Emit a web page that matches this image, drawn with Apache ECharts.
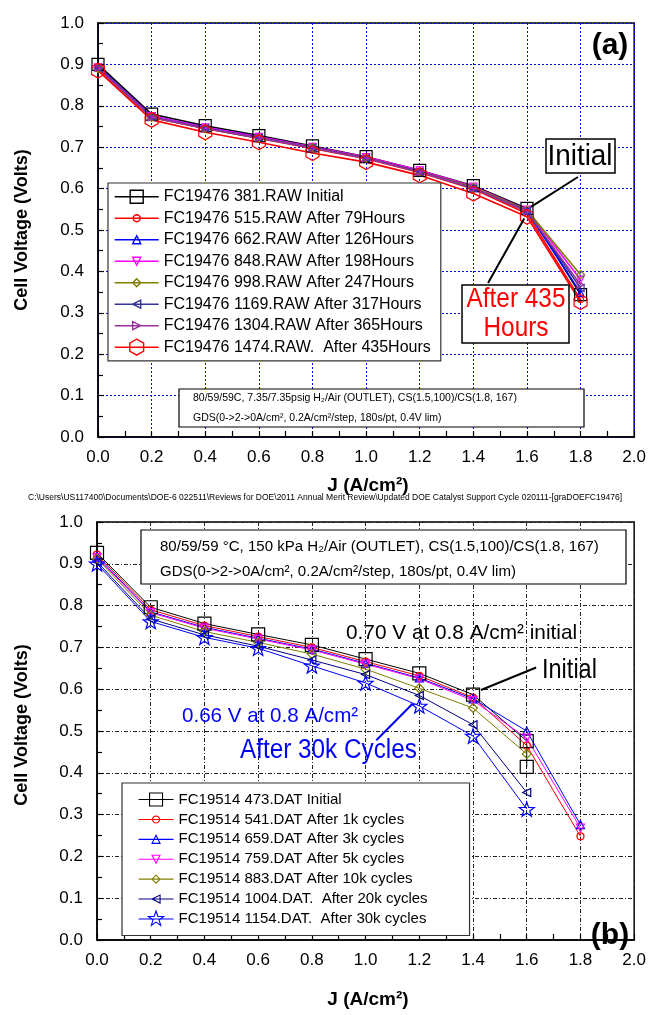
<!DOCTYPE html>
<html><head><meta charset="utf-8">
<script src="https://cdn.jsdelivr.net/npm/echarts@6/dist/echarts.min.js"></script>
<style>html,body{margin:0;padding:0;background:#fff}#c{width:649px;height:1015px}</style>
</head><body><div id="c"></div>
<script>
// ---------- data ----------
const J = [0, 0.2, 0.4, 0.6, 0.8, 1.0, 1.2, 1.4, 1.6, 1.8];
const J_B_INIT = [0, 0.2, 0.4, 0.6, 0.8, 1.0, 1.2, 1.4, 1.6, 1.6];
const J_B_SHORT = [0, 0.2, 0.4, 0.6, 0.8, 1.0, 1.2, 1.4, 1.6];
const xTicks = [0, 0.2, 0.4, 0.6, 0.8, 1.0, 1.2, 1.4, 1.6, 1.8, 2.0];
const yTicks = [0, 0.1, 0.2, 0.3, 0.4, 0.5, 0.6, 0.7, 0.8, 0.9, 1.0];

// panel (a)
const namesA = ['FC19476 381.RAW Initial', 'FC19476 515.RAW After 79Hours', 'FC19476 662.RAW After 126Hours',
  'FC19476 848.RAW After 198Hours', 'FC19476 998.RAW After 247Hours', 'FC19476 1169.RAW After 317Hours',
  'FC19476 1304.RAW After 365Hours', 'FC19476 1474.RAW.  After 435Hours'];
const a381  = [0.900, 0.780, 0.752, 0.728, 0.703, 0.677, 0.644, 0.607, 0.552, 0.344];
const a515  = [0.890, 0.772, 0.745, 0.722, 0.697, 0.672, 0.639, 0.599, 0.540, 0.332];
const a662  = [0.895, 0.775, 0.748, 0.725, 0.700, 0.675, 0.642, 0.603, 0.546, 0.348];
const a848  = [0.893, 0.775, 0.748, 0.725, 0.701, 0.676, 0.644, 0.605, 0.549, 0.380];
const a998  = [0.890, 0.772, 0.745, 0.722, 0.699, 0.674, 0.641, 0.603, 0.548, 0.392];
const a1169 = [0.892, 0.773, 0.746, 0.723, 0.699, 0.674, 0.641, 0.601, 0.546, 0.360];
const a1304 = [0.891, 0.772, 0.745, 0.722, 0.698, 0.673, 0.640, 0.600, 0.545, 0.368];
const a1474 = [0.885, 0.766, 0.736, 0.712, 0.686, 0.664, 0.632, 0.588, 0.532, 0.326];

// panel (b)
const namesB = ['FC19514 473.DAT Initial', 'FC19514 541.DAT After 1k cycles', 'FC19514 659.DAT After 3k cycles',
  'FC19514 759.DAT After 5k cycles', 'FC19514 883.DAT After 10k cycles', 'FC19514 1004.DAT.  After 20k cycles',
  'FC19514 1154.DAT.  After 30k cycles'];
const b473  = [0.926, 0.796, 0.757, 0.731, 0.706, 0.672, 0.638, 0.587, 0.476, 0.414];
const b541  = [0.922, 0.790, 0.752, 0.726, 0.700, 0.666, 0.632, 0.580, 0.465, 0.248];
const b659  = [0.918, 0.785, 0.748, 0.722, 0.696, 0.662, 0.627, 0.577, 0.500, 0.276];
const b759  = [0.915, 0.783, 0.746, 0.720, 0.694, 0.660, 0.625, 0.573, 0.483, 0.268];
const b883  = [0.912, 0.777, 0.738, 0.712, 0.684, 0.648, 0.602, 0.555, 0.445];
const b1004 = [0.905, 0.768, 0.730, 0.703, 0.670, 0.635, 0.585, 0.515, 0.353];
const b1154 = [0.900, 0.762, 0.724, 0.698, 0.656, 0.615, 0.560, 0.488, 0.313];

// ---------- helpers ----------
const FONT = 'Liberation Sans, Arial, sans-serif';
const HEX = 'path://M0,-10 L8.66,-5 L8.66,5 L0,10 L-8.66,5 L-8.66,-5 Z';
const STAR = 'path://M0,-10 L2.35,-3.24 L9.51,-3.09 L3.8,1.24 L5.88,8.09 L0,4 L-5.88,8.09 L-3.8,1.24 L-9.51,-3.09 L-2.35,-3.24 Z';
const pts = (xs, ys) => ys.map((v, i) => [xs[i], v]);

// legend icon shapes (unit shapes, radius 1)
function shapePts(kind) {
  const r = [];
  if (kind === 'rect') return [[-1, -1], [1, -1], [1, 1], [-1, 1]];
  if (kind === 'circle') { for (let k = 0; k < 16; k++) { const a = k / 16 * 2 * Math.PI; r.push([Math.cos(a), Math.sin(a)]); } return r; }
  if (kind === 'up') return [[0, -1], [1, 1], [-1, 1]];
  if (kind === 'down') return [[0, 1], [1, -1], [-1, -1]];
  if (kind === 'left') return [[-1, 0], [1, -1], [1, 1]];
  if (kind === 'right') return [[1, 0], [-1, -1], [-1, 1]];
  if (kind === 'diamond') return [[0, -1], [1, 0], [0, 1], [-1, 0]];
  if (kind === 'hex') return [[0, -1], [0.866, -0.5], [0.866, 0.5], [0, 1], [-0.866, 0.5], [-0.866, -0.5]];
  if (kind === 'star') { for (let k = 0; k < 10; k++) { const a = -Math.PI / 2 + k * Math.PI / 5; const rr = k % 2 ? 0.4 : 1; r.push([rr * Math.cos(a), rr * Math.sin(a)]); } return r; }
  return r;
}
function legendIcon(kind, W, H, s) {
  const cx = W / 2, cy = H / 2, h = s / 2;
  const p = shapePts(kind).map(q => (cx + q[0] * h).toFixed(2) + ',' + (cy + q[1] * h).toFixed(2));
  return 'path://M0,0 M' + W + ',' + H + ' M0,' + cy + ' L' + W + ',' + cy + ' M' + p.join(' L') + ' Z';
}

function ser(name, xs, ys, color, symbol, size, rot, g, lw) {
  return {
    name, type: 'line', xAxisIndex: g, yAxisIndex: g, data: pts(xs, ys),
    symbol, symbolSize: size, symbolRotate: rot, symbolKeepAspect: true, showSymbol: true,
    lineStyle: { color, width: lw }, itemStyle: { color: 'rgba(255,255,255,0)', borderColor: color, borderWidth: 1.2 },
    emphasis: { disabled: true }, animation: false, z: 3
  };
}
function xAx(g, grid) {
  return {
    type: 'value', gridIndex: g, min: 0, max: 2, interval: 0.2,
    axisLine: { show: true, onZero: false, lineStyle: { color: '#000', width: 1.5 } },
    axisTick: { show: true, inside: true, length: 6, lineStyle: { color: '#000', width: 1.2 } },
    minorTick: { show: true, splitNumber: 2, length: 6, lineStyle: { color: '#000', width: 1.2 } },
    splitLine: { show: true, lineStyle: grid },
    axisLabel: { color: '#000', fontSize: 17, fontFamily: FONT, margin: 12, formatter: v => v.toFixed(1) }
  };
}
function yAx(g, grid) {
  return {
    type: 'value', gridIndex: g, min: 0, max: 1, interval: 0.1,
    axisLine: { show: true, onZero: false, lineStyle: { color: '#000', width: 1.5 } },
    axisTick: { show: true, inside: true, length: 6, lineStyle: { color: '#000', width: 1.2 } },
    minorTick: { show: true, splitNumber: 2, length: 5, lineStyle: { color: '#000', width: 1.2 } },
    splitLine: { show: true, lineStyle: grid },
    axisLabel: { color: '#000', fontSize: 17, fontFamily: FONT, margin: 14, formatter: v => v.toFixed(1) }
  };
}
function arrow(p1, p2, color) {
  return [{ coord: p1, lineStyle: { color, width: 2, type: 'solid' } }, { coord: p2 }];
}
const gridA = { color: '#0000ff', type: [2, 2], width: 1 };
const gridB = { color: '#222', type: [4, 2, 1, 2], width: 1 };

const seriesA = [
  ser(namesA[0], J, a381, '#000000', 'rect', 12, 0, 0, 1.6),
  ser(namesA[1], J, a515, '#ff0000', 'circle', 6, 0, 0, 1.6),
  ser(namesA[2], J, a662, '#0000ff', 'triangle', 7, 0, 0, 1.6),
  ser(namesA[3], J, a848, '#ff00ff', 'triangle', 7, 180, 0, 1.6),
  ser(namesA[4], J, a998, '#808000', 'diamond', 8, 0, 0, 1.6),
  ser(namesA[5], J, a1169, '#333399', 'triangle', 7, 90, 0, 1.6),
  ser(namesA[6], J, a1304, '#993399', 'triangle', 7, -90, 0, 1.6),
  ser(namesA[7], J, a1474, '#ff0000', HEX, 15, 0, 0, 1.6)
];
seriesA[0].markLine = {
  silent: true, symbol: ['none', 'arrow'], symbolSize: [0, 10], label: { show: false }, animation: false,
  data: [arrow([1.79, 0.628], [1.615, 0.556], '#000'), arrow([1.455, 0.372], [1.59, 0.528], '#000')]
};
const seriesB = [
  ser(namesB[0], J_B_INIT, b473, '#000000', 'rect', 13, 0, 1, 1),
  ser(namesB[1], J, b541, '#ff0000', 'circle', 7, 0, 1, 1),
  ser(namesB[2], J, b659, '#0000ff', 'triangle', 8, 0, 1, 1),
  ser(namesB[3], J, b759, '#ff00ff', 'triangle', 8, 180, 1, 1),
  ser(namesB[4], J_B_SHORT, b883, '#808000', 'diamond', 9, 0, 1, 1),
  ser(namesB[5], J_B_SHORT, b1004, '#000080', 'triangle', 8, 90, 1, 1),
  ser(namesB[6], J_B_SHORT, b1154, '#0000ff', STAR, 15, 0, 1, 1)
];
seriesB[0].markLine = {
  silent: true, symbol: ['none', 'arrow'], symbolSize: [0, 10], label: { show: false }, animation: false,
  data: [arrow([1.635, 0.652], [1.43, 0.598], '#000'), arrow([1.04, 0.478], [1.175, 0.565], '#0000ff')]
};

const iconKindsA = [['rect', 13], ['circle', 7], ['up', 8], ['down', 8], ['diamond', 8], ['left', 8], ['right', 8], ['hex', 16]];
const iconKindsB = [['rect', 13], ['circle', 7], ['up', 8], ['down', 8], ['diamond', 8], ['left', 8], ['star', 16]];
const legendDataA = namesA.map((n, i) => ({ name: n, icon: legendIcon(iconKindsA[i][0], 44, 16, iconKindsA[i][1]), symbolRotate: 0 }));
const legendDataB = namesB.map((n, i) => ({ name: n, icon: legendIcon(iconKindsB[i][0], 35, 16, iconKindsB[i][1]), symbolRotate: 0 }));

function txt(x, y, text, font, color, align, sx) {
  return { type: 'text', x, y, scaleX: sx || 1, z: 20,
    style: { text, font, fill: color || '#000', textAlign: align || 'left', textVerticalAlign: 'middle' } };
}
function box(x, y, w, h, lw) {
  return { type: 'rect', z: 15, shape: { x, y, width: w, height: h }, style: { fill: '#fff', stroke: '#000', lineWidth: lw || 1.2 } };
}
const graphics = [
  // panel (a)
  txt(610, 46, '(a)', 'bold 30px ' + FONT, '#000', 'center'),
  box(546, 139, 69, 34, 1.5),
  txt(580, 157, 'Initial', '30px ' + FONT, '#000', 'center', 0.93),
  box(462, 285, 107, 58, 1.5),
  txt(516, 299, 'After 435', '28px ' + FONT, '#ff0000', 'center', 0.87),
  txt(516, 328, 'Hours', '28px ' + FONT, '#ff0000', 'center', 0.87),
  box(179, 389, 405, 38, 1.2),
  txt(193, 398, '80/59/59C, 7.35/7.35psig H\u2082/Air (OUTLET), CS(1.5,100)/CS(1.8, 167)', '10.5px ' + FONT),
  txt(193, 418, 'GDS(0->2->0A/cm\u00b2, 0.2A/cm\u00b2/step, 180s/pt, 0.4V lim)', '10.5px ' + FONT),
  { type: 'text', x: 22, y: 230, rotation: Math.PI / 2, z: 20,
    style: { text: 'Cell Voltage (Volts)', font: 'bold 18px ' + FONT, fill: '#000', textAlign: 'center', textVerticalAlign: 'middle' } },
  txt(368, 486, 'J (A/cm\u00b2)', 'bold 19px ' + FONT, '#000', 'center'),
  txt(325, 498, 'C:\\Users\\US117400\\Documents\\DOE-6 022511\\Reviews for DOE\\2011 Annual Merit Review\\Updated DOE Catalyst Support Cycle 020111-[graDOEFC19476]', '8.5px ' + FONT, '#000', 'center', 1.0),
  // panel (b)
  box(141, 530, 485, 54, 1.2),
  txt(160, 547, '80/59/59 \u00b0C, 150 kPa H\u2082/Air (OUTLET), CS(1.5,100)/CS(1.8, 167)', '15.5px ' + FONT, '#000', 'left', 0.97),
  txt(160, 572, 'GDS(0->2->0A/cm\u00b2, 0.2A/cm\u00b2/step, 180s/pt, 0.4V lim)', '15.5px ' + FONT, '#000', 'left', 0.97),
  txt(346, 633, '0.70 V at 0.8 A/cm\u00b2 initial', '21px ' + FONT, '#000', 'left', 0.99),
  txt(542, 670, 'Initial', '28px ' + FONT, '#000', 'left', 0.84),
  txt(182, 716, '0.66 V at 0.8 A/cm\u00b2', '21px ' + FONT, '#0000ff', 'left', 0.98),
  txt(240, 751, 'After 30k Cycles', '27px ' + FONT, '#0000ff', 'left', 0.9),
  txt(610, 936, '(b)', 'bold 30px ' + FONT, '#000', 'center'),
  { type: 'text', x: 22, y: 725, rotation: Math.PI / 2, z: 20,
    style: { text: 'Cell Voltage (Volts)', font: 'bold 18px ' + FONT, fill: '#000', textAlign: 'center', textVerticalAlign: 'middle' } },
  txt(368, 1000, 'J (A/cm\u00b2)', 'bold 19px ' + FONT, '#000', 'center')
];

const chart = echarts.init(document.getElementById('c'), null, { renderer: 'canvas' });
chart.setOption({
  backgroundColor: '#fff',
  animation: false,
  grid: [
    { left: 98, top: 23, width: 539, height: 414, show: true, borderColor: '#000', borderWidth: 1.5, backgroundColor: '#fff' },
    { left: 97, top: 522, width: 540, height: 418, show: true, borderColor: '#000', borderWidth: 1.5, backgroundColor: '#fff' }
  ],
  xAxis: [xAx(0, gridA), xAx(1, gridB)],
  yAxis: [yAx(0, gridA), yAx(1, gridB)],
  legend: [
    { data: legendDataA, orient: 'vertical', left: 108, top: 183, itemWidth: 44, itemHeight: 16, itemGap: 4.1,
      symbolRotate: 0, symbolKeepAspect: true, itemStyle: { borderWidth: 1.4 },
      padding: [5, 10, 5, 6], backgroundColor: '#fff', borderColor: '#333', borderWidth: 1.2,
      textStyle: { fontSize: 16, fontFamily: FONT, color: '#000' }, selectedMode: false, z: 10 },
    { data: legendDataB, orient: 'vertical', left: 122, top: 783, itemWidth: 35, itemHeight: 16, itemGap: 2.8,
      symbolRotate: 0, symbolKeepAspect: true, itemStyle: { borderWidth: 1.1 },
      padding: [8, 42, 8, 16], backgroundColor: '#fff', borderColor: '#333', borderWidth: 1.2,
      textStyle: { fontSize: 15, fontFamily: FONT, color: '#000' }, selectedMode: false, z: 10 }
  ],
  series: seriesA.concat(seriesB),
  graphic: graphics
});
</script></body></html>
